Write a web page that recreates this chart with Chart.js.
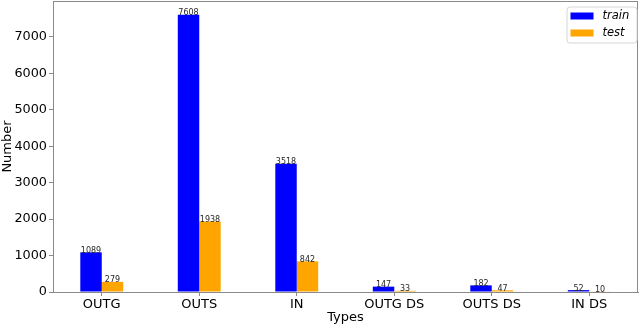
<!DOCTYPE html>
<html>
<head>
<meta charset="utf-8">
<script src="https://cdn.jsdelivr.net/npm/chart.js@4/dist/chart.umd.min.js"></script>
<style>
  html, body { margin: 0; padding: 0; background: #fff; }
  #wrap { width: 640px; height: 326px; }
</style>
</head>
<body>
<div id="wrap"><canvas id="chart" width="640" height="326"></canvas></div>
<script>
// data
var types = ['OUTG', 'OUTS', 'IN', 'OUTG DS', 'OUTS DS', 'IN DS'];
var trainCounts = [1089, 7608, 3518, 147, 182, 52];
var testCounts = [279, 1938, 842, 33, 47, 10];
var yTicks = [0, 1000, 2000, 3000, 4000, 5000, 6000, 7000];

var FONT = 'DejaVu Sans';
var SPINE = '#8a8a8a';

// numbers on top of each bar
var barLabels = {
    id: 'barLabels',
    afterDatasetsDraw: function(chart) {
        var ctx = chart.ctx;
        ctx.save();
        ctx.font = '8px "' + FONT + '"';
        ctx.fillStyle = '#262626';
        ctx.textAlign = 'center';
        ctx.textBaseline = 'alphabetic';
        chart.data.datasets.forEach(function(ds, i) {
            chart.getDatasetMeta(i).data.forEach(function(bar, j) {
                ctx.fillText(String(ds.data[j]), bar.x, bar.y + 0.5);
            });
        });
        ctx.restore();
    }
};

// box round the plot plus the legend in the top right corner
var frameAndLegend = {
    id: 'frameAndLegend',
    afterDraw: function(chart) {
        var ctx = chart.ctx;
        var a = chart.chartArea;
        ctx.save();
        ctx.strokeStyle = SPINE;
        ctx.lineWidth = 1;
        ctx.strokeRect(a.left + 0.5, a.top + 0.5, a.right - a.left - 1, a.bottom - a.top);

        var bx = a.right - 71.5, by = a.top + 5.5, bw = 70, bh = 36;
        ctx.fillStyle = 'rgba(255,255,255,0.8)';
        ctx.strokeStyle = '#d6d6d6';
        ctx.beginPath();
        ctx.roundRect(bx + 0.5, by + 0.5, bw, bh, 3);
        ctx.fill();
        ctx.stroke();

        ctx.font = 'italic 11.5px "' + FONT + '"';
        ctx.textBaseline = 'middle';
        ctx.textAlign = 'left';
        chart.data.datasets.forEach(function(ds, i) {
            var cy = by + 9.5 + i * 17;
            ctx.fillStyle = ds.backgroundColor;
            ctx.fillRect(bx + 4, cy - 3.5, 23, 7);
            ctx.fillStyle = '#000';
            ctx.fillText(ds.label, bx + 36, cy);
        });
        ctx.restore();
    }
};

new Chart(document.getElementById('chart'), {
    type: 'bar',
    data: {
        labels: types,
        datasets: [
            { label: 'train', data: trainCounts, backgroundColor: '#0000ff',
              categoryPercentage: 0.44, barPercentage: 1.0 },
            { label: 'test', data: testCounts, backgroundColor: '#ffa500',
              categoryPercentage: 0.44, barPercentage: 1.0 }
        ]
    },
    options: {
        responsive: false,
        animation: false,
        devicePixelRatio: 1,
        layout: { padding: { top: 1, right: 2, left: 0, bottom: 0 } },
        plugins: {
            legend: { display: false },
            tooltip: { enabled: false }
        },
        scales: {
            x: {
                grid: { display: true, drawOnChartArea: false, drawTicks: true,
                        tickLength: 4, color: SPINE, offset: false },
                border: { display: true, color: SPINE },
                ticks: { color: '#000', padding: 1, maxRotation: 0, autoSkip: false,
                         font: { family: FONT, size: 13 } },
                title: { display: true, text: 'Types', color: '#000',
                         padding: { top: 0, bottom: 1 },
                         font: { family: FONT, size: 13 } },
                afterFit: function(scale) {
                    scale.height = 34;
                    scale.paddingLeft = 0;
                    scale.paddingRight = 0;
                }
            },
            y: {
                min: 0,
                max: 7988,
                grid: { display: true, drawOnChartArea: false, drawTicks: true,
                        tickLength: 4, color: SPINE },
                border: { display: true, color: SPINE },
                ticks: { color: '#000', padding: 2,
                         font: { family: FONT, size: 12.8 },
                         callback: function(v) { return String(v); } },
                afterBuildTicks: function(scale) {
                    scale.ticks = yTicks.map(function(v) { return { value: v }; });
                },
                title: { display: true, text: 'Number', color: '#000',
                         padding: { top: 0, bottom: 0 },
                         font: { family: FONT, size: 13 } },
                afterFit: function(scale) {
                    scale.width = 53;
                    scale.paddingTop = 0;
                    scale.paddingBottom = 0;
                }
            }
        }
    },
    plugins: [barLabels, frameAndLegend]
});
</script>
</body>
</html>
